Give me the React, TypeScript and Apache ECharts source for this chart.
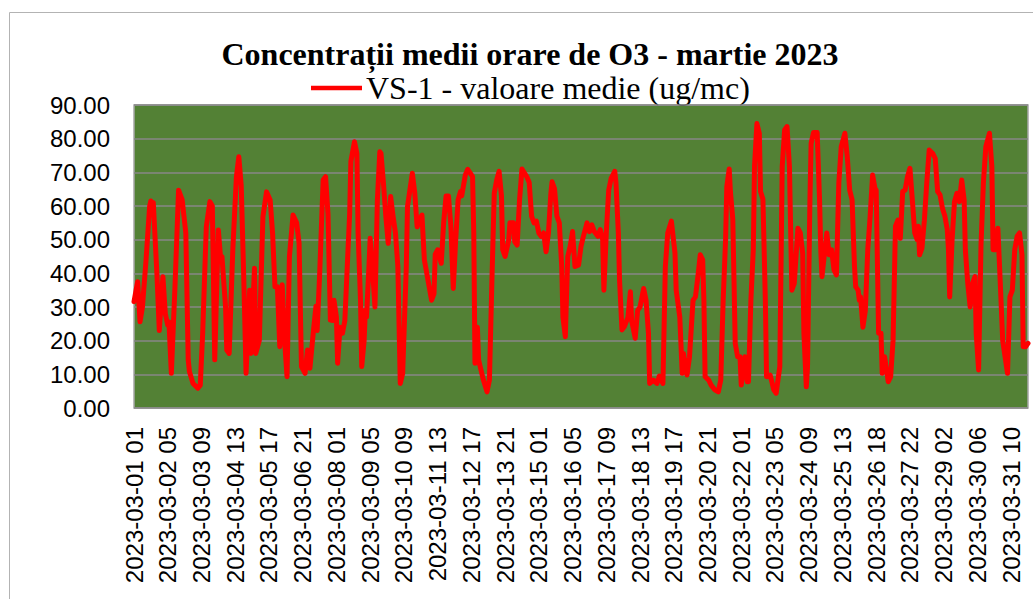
import React, { useEffect, useRef } from "react";
import * as echarts from "echarts";

const titleText = "Concentrații medii orare de O3 - martie 2023";
const seriesName = "VS-1 - valoare medie (ug/mc)";

// x tick labels, one every 28 hourly categories (index 0, 28, 56, ...)
const xLabels = [
  "2023-03-01 01", "2023-03-02 05", "2023-03-03 09", "2023-03-04 13", "2023-03-05 17",
  "2023-03-06 21", "2023-03-08 01", "2023-03-09 05", "2023-03-10 09", "2023-03-11 13",
  "2023-03-12 17", "2023-03-13 21", "2023-03-15 01", "2023-03-16 05", "2023-03-17 09",
  "2023-03-18 13", "2023-03-19 17", "2023-03-20 21", "2023-03-22 01", "2023-03-23 05",
  "2023-03-24 09", "2023-03-25 13", "2023-03-26 18", "2023-03-27 22", "2023-03-29 02",
  "2023-03-30 06", "2023-03-31 10",
];
const labelStep = 28;
const lastHourIndex = 742;

// hourly category index (0 = 2023-03-01 01) of the read points
const hourIndex = [
  0, 3, 5, 7, 10, 13, 14, 15, 16, 19, 21, 24, 26, 28, 29, 31, 34, 37, 40, 43,
  45, 46, 49, 53, 55, 57, 60, 63, 65, 67, 70, 72, 73, 76, 77, 79, 82, 85, 87, 89,
  91, 93, 96, 97, 100, 101, 104, 107, 110, 113, 115, 117, 119, 121, 123, 125, 127, 129, 132, 135,
  137, 139, 142, 144, 146, 149, 151, 152, 154, 157, 159, 161, 163, 165, 166, 168, 169, 171, 173, 175,
  177, 179, 180, 183, 185, 186, 188, 189, 191, 192, 193, 195, 196, 198, 200, 202, 204, 205, 207, 209,
  211, 213, 215, 217, 219, 221, 223, 226, 227, 231, 233, 235, 237, 239, 241, 244, 247, 249, 250, 252,
  255, 257, 259, 261, 263, 265, 267, 269, 271, 272, 275, 277, 281, 282, 283, 285, 286, 288, 290, 293,
  295, 297, 299, 301, 303, 305, 306, 308, 311, 312, 315, 316, 318, 320, 322, 326, 328, 330, 332, 334,
  336, 338, 340, 342, 344, 346, 347, 349, 351, 353, 355, 356, 358, 360, 362, 364, 366, 369, 371, 373,
  376, 378, 380, 382, 385, 387, 389, 390, 392, 394, 396, 399, 400, 402, 403, 405, 407, 410, 412, 413,
  416, 418, 420, 423, 425, 427, 428, 431, 434, 436, 439, 441, 443, 446, 449, 450, 453, 455, 456, 459,
  461, 464, 466, 468, 470, 472, 473, 474, 477, 479, 482, 485, 487, 489, 491, 492, 494, 495, 497, 499,
  501, 503, 504, 507, 509, 510, 512, 514, 515, 517, 519, 520, 522, 524, 525, 528, 531, 533, 536, 538,
  540, 542, 544, 546, 548, 551, 553, 555, 556, 558, 559, 561, 562, 564, 567, 569, 570, 571, 573, 575,
  577, 579, 581, 583, 585, 587, 590, 592, 594, 596, 598, 599, 601, 602, 603, 605, 607, 609, 611, 613,
  615, 616, 618, 620, 621, 623, 626, 628, 630, 632, 634, 636, 638, 640, 642, 644, 646, 648, 650, 651,
  652, 654, 656, 658, 660, 663, 665, 667, 669, 671, 673, 675, 676, 677, 679, 681, 683, 685, 687, 689,
  690, 692, 694, 696, 698, 699, 701, 703, 705, 707, 710, 712, 713, 715, 717, 719, 721, 725, 727, 729,
  731, 733, 735, 737, 738, 740, 742,
];

// O3 hourly means (ug/mc) at those indexes
const o3Values = [
  31.6, 37.5, 25.6, 30, 44, 60, 61.5, 60, 61, 40, 23, 39, 28, 24.6, 25.6, 10.3, 36, 64.7, 61.8, 52,
  14.3, 10.8, 7.3, 5.9, 6.8, 22.2, 53.8, 61.3, 60, 14.3, 52.9, 44, 45, 30, 17.2, 16.2, 46.9, 68.7, 74.6, 66,
  40, 10.3, 35, 16.2, 41.5, 16.2, 20, 56.8, 64.2, 61.8, 52, 36, 36, 18.2, 36.6, 20, 9.3, 45, 57.3, 55,
  49, 12.3, 10.3, 17.2, 11.8, 23.2, 30.2, 23, 39, 67.7, 68.7, 57.7, 26.1, 26, 32, 27, 13.3, 24, 22.2, 26,
  42, 57.8, 73.2, 79.1, 75.6, 52, 32, 12.3, 20, 29, 27, 42, 50.4, 41, 30, 61.8, 76.1, 75.6, 67, 57,
  48.9, 62.8, 57, 52, 42, 7.3, 10.3, 42, 59.8, 69.7, 64, 53.8, 55.8, 57.3, 44, 38, 32, 34, 45.6, 47,
  43, 55, 63, 63, 54, 35.5, 50, 61.8, 64.3, 63, 69.2, 70.9, 68.7, 52, 13.3, 24, 14.3, 11.3, 8.3, 4.8,
  8.3, 37, 63.8, 67.7, 70.3, 63, 47, 45, 49.9, 55, 55, 49.4, 48.4, 61.8, 71, 68.7, 67, 57, 55, 55.5,
  52, 51, 52, 46.4, 52, 63.8, 67.2, 65.2, 57, 55, 42, 27, 21.2, 45, 48, 52.4, 42, 42.5, 48, 51,
  55, 52.4, 54.4, 52.4, 51, 53, 50, 35, 52, 64.7, 68.2, 70.3, 67, 52, 38, 23.2, 24.2, 27, 34.5, 26,
  20.7, 29, 30, 35.5, 32, 22.2, 7.3, 8.3, 7.3, 9.5, 7.3, 42, 52, 55.5, 46, 35, 27, 10.3, 16.2, 9.8,
  15, 32, 33, 39, 45.5, 44, 32, 9.3, 8.3, 6.8, 5.4, 4.8, 8.3, 32, 50, 65.7, 71, 64.3, 56, 19.2,
  15.2, 15.2, 6.8, 15.2, 7.8, 7.8, 32, 46.9, 71.7, 84.5, 81.6, 64.3, 62, 32, 9.3, 9.8, 5.4, 4.4, 12.3, 71.7,
  82.6, 83.6, 71.7, 35, 37, 53.4, 52, 46, 22.2, 6.3, 12.3, 61.8, 78.6, 81.8, 81.8, 61.8, 47, 39, 45.5, 52,
  45.5, 47, 41, 39.5, 67, 77.6, 81.6, 74.6, 64.7, 61.8, 42, 36, 35, 32, 33, 24, 29, 47, 57, 69.2,
  65.2, 64.7, 22.2, 22.2, 10.3, 15.2, 7.8, 9.3, 20, 54, 55.8, 50.4, 64.3, 64.7, 68.7, 71.2, 61.8, 52, 50, 54,
  45.5, 47.5, 55.8, 67, 76.6, 75.6, 74.1, 64.3, 63.3, 59.3, 57, 53, 47, 33, 50, 61.3, 63.8, 61.3, 67.7, 61.8,
  47, 37, 30, 37, 39, 22.2, 11.3, 48.4, 67, 77.6, 81.6, 71.7, 47, 47, 53.4, 37, 20, 10.3, 33, 35,
  47, 51, 52, 45.5, 18.2, 18.2, 19.2,
];

const yMin = 0;
const yMax = 90;
const yStep = 10;

export default function App() {
  const ref = useRef<HTMLDivElement>(null);

  useEffect(() => {
    if (!ref.current) return;
    const chart = echarts.init(ref.current, undefined, { renderer: "svg" });
    const data = hourIndex.map((h, i) => [h, o3Values[i]]);

    chart.setOption({
      animation: false,
      backgroundColor: "#ffffff",
      title: {
        text: titleText,
        left: 525,
        textAlign: "center",
        top: 33,
        textStyle: {
          fontFamily: "Liberation Serif",
          fontWeight: "bold",
          fontSize: 32,
          color: "#000000",
        },
      },
      legend: { show: false, data: [seriesName] },
      graphic: [
        {
          type: "rect",
          shape: { x: 9.5, y: 12.5, width: 1040, height: 600 },
          style: { fill: "none", stroke: "#b3b3b3", lineWidth: 1 },
          silent: true,
          z: -10,
        },
        {
          type: "line",
          shape: { x1: 311, y1: 88, x2: 362, y2: 88 },
          style: { stroke: "#ff0000", lineWidth: 4.5 },
          silent: true,
        },
        {
          type: "text",
          x: 366,
          y: 88,
          style: {
            text: seriesName,
            fontFamily: "Liberation Serif",
            fontSize: 32,
            fill: "#000000",
            verticalAlign: "middle",
            align: "left",
          },
          silent: true,
        },
      ],
      grid: {
        left: 134,
        right: 5,
        top: 105,
        bottom: 191,
        show: true,
        backgroundColor: "#538135",
        borderColor: "#a6a6a6",
        borderWidth: 1.5,
      },
      xAxis: {
        type: "value",
        min: 0,
        max: lastHourIndex,
        interval: labelStep,
        axisLine: { show: false },
        axisTick: { show: false },
        splitLine: { show: false },
        axisLabel: {
          rotate: 90,
          margin: 19,
          fontFamily: "Liberation Sans",
          fontSize: 24,
          color: "#000000",
          showMaxLabel: false,
          formatter: (v: number) => {
            const k = Math.round(v / labelStep);
            return v % labelStep === 0 && xLabels[k] ? xLabels[k] : "";
          },
        },
      },
      yAxis: {
        type: "value",
        min: yMin,
        max: yMax,
        interval: yStep,
        axisLine: { show: false },
        axisTick: { show: false },
        splitLine: { lineStyle: { color: "#878787", width: 1.5 } },
        axisLabel: {
          margin: 24,
          fontFamily: "Liberation Sans",
          fontSize: 24,
          color: "#000000",
          formatter: (v: number) => v.toFixed(2),
        },
      },
      series: [
        {
          name: seriesName,
          type: "line",
          data,
          showSymbol: false,
          symbol: "none",
          color: "#ff0000",
          lineStyle: { color: "#ff0000", width: 5, cap: "round", join: "round" },
        },
      ],
    });

    return () => chart.dispose();
  }, []);

  return (
    <div
      ref={ref}
      style={{ position: "fixed", left: 0, top: 0, width: 1033, height: 599 }}
    />
  );
}
